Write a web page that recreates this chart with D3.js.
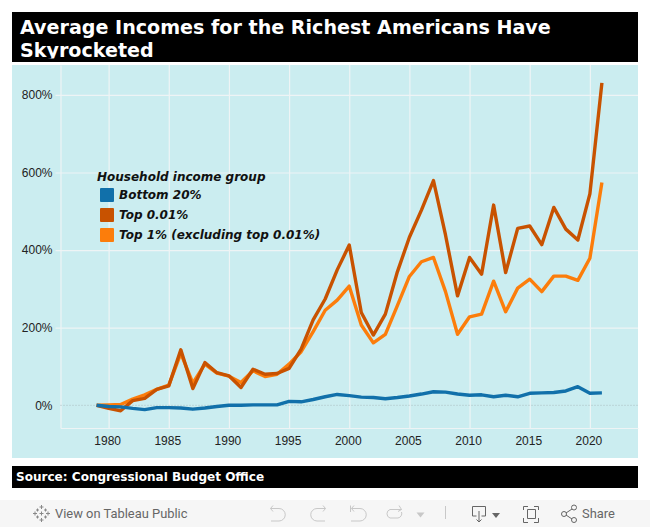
<!DOCTYPE html>
<html>
<head>
<meta charset="utf-8">
<script src="https://d3js.org/d3.v7.min.js"></script>
<style>
html, body { margin: 0; padding: 0; background: #fff; overflow: hidden; }
svg { display: block; }
.tick text { font-family: "Liberation Sans", Arial, sans-serif; font-size: 12px; fill: #222; }
</style>
</head>
<body>
<div id="content"></div>
<script>
var years = d3.range(1979, 2022);
var bottom20 = [0, -3, -4, -8, -11, -6, -6, -7, -10, -7, -3, 0, 0, 1, 1, 1, 10, 9, 15, 22, 28, 25, 21, 20, 17, 20, 24, 29, 35, 34, 29, 26, 27, 22, 26, 22, 31, 32, 33, 37, 48, 31, 32];
var top001 = [0, -8, -14, 12, 18, 41, 50, 143, 43, 110, 84, 76, 46, 93, 80, 82, 95, 145, 220, 274, 349, 413, 239, 181, 235, 344, 433, 503, 579, 439, 282, 381, 338, 516, 342, 456, 462, 414, 510, 454, 426, 545, 831];
var top1 = [0, 1, 2, 16, 27, 41, 52, 134, 57, 106, 83, 75, 59, 89, 74, 80, 106, 138, 190, 245, 271, 307, 207, 161, 183, 257, 332, 370, 381, 293, 183, 228, 235, 320, 241, 302, 325, 293, 333, 333, 322, 379, 574];

var xTicks = [1980, 1985, 1990, 1995, 2000, 2005, 2010, 2015, 2020];
var yTicks = [0, 200, 400, 600, 800];
var groups = ["Bottom 20%", "Top 0.01%", "Top 1% (excluding top 0.01%)"];
var groupColors = ["#1170aa", "#c85200", "#fc7d0b"];

var svg = d3.select("#content").append("svg").attr("width", 650).attr("height", 527);

// title, clipped like the original
svg.append("clipPath").attr("id", "titleClip").append("rect")
	.attr("x", 12).attr("y", 12).attr("width", 626).attr("height", 46.5);
svg.append("rect").attr("x", 12).attr("y", 12).attr("width", 626).attr("height", 50).attr("fill", "#000");
var title = svg.append("text").attr("clip-path", "url(#titleClip)")
	.attr("font-family", "DejaVu Sans").attr("font-weight", "bold").attr("font-size", 19.1).attr("fill", "#fff");
title.append("tspan").attr("x", 20).attr("y", 34).text("Average Incomes for the Richest Americans Have");
title.append("tspan").attr("x", 20).attr("y", 57).text("Skyrocketed");

// chart panel
svg.append("rect").attr("x", 12).attr("y", 65).attr("width", 626).attr("height", 393).attr("fill", "#cbedf0");

var x = d3.scaleLinear().domain([1976, 2024]).range([60.5, 638]);
var y = d3.scaleLinear().domain([-58.5, 877]).range([428, 65]);

var xAxis = svg.append("g").attr("transform", "translate(0,428)")
	.call(d3.axisBottom(x).tickValues(xTicks).tickFormat(d3.format("d")).tickSize(0).tickPadding(8));
xAxis.select(".domain").attr("stroke", "#eef4f5").attr("stroke-width", 1.2);
xAxis.selectAll(".tick line").attr("y2", -363).attr("stroke", "#eef4f5").attr("stroke-width", 1.2);
xAxis.selectAll(".tick text").attr("dx", -1.5);

var yAxis = svg.append("g").attr("transform", "translate(60.5,0)")
	.call(d3.axisLeft(y).tickValues(yTicks).tickFormat(function(d) { return d + "%"; }).tickSize(0).tickPadding(8));
yAxis.select(".domain").attr("stroke", "#eef4f5").attr("stroke-width", 1.2);
yAxis.selectAll(".tick line").attr("x1", -5).attr("x2", 577.5).attr("stroke", "#eef4f5").attr("stroke-width", 1.2);
// the zero line is a faint dotted one in the original
yAxis.selectAll(".tick line").filter(function(d) { return d === 0; }).attr("stroke", "none");

svg.append("line").attr("x1", 60.5).attr("x2", 638).attr("y1", y(0)).attr("y2", y(0))
	.attr("stroke", "#a9bcbe").attr("stroke-width", 1).attr("stroke-dasharray", "1,2");

var line = d3.line()
	.x(function(d, i) { return x(years[i]); })
	.y(function(d) { return y(d); });

[[top1, 2], [top001, 1], [bottom20, 0]].forEach(function(s) {
	svg.append("path").datum(s[0]).attr("d", line).attr("fill", "none")
		.attr("stroke", groupColors[s[1]]).attr("stroke-width", 3.4).attr("stroke-linejoin", "round");
});

// legend
var legend = svg.append("g").attr("font-family", "DejaVu Sans").attr("font-weight", "bold")
	.attr("font-style", "italic").attr("font-size", 12).attr("fill", "#111");
legend.append("text").attr("x", 97).attr("y", 181).text("Household income group");
var item = legend.selectAll("g").data(groups).enter().append("g");
item.append("rect").attr("x", 100).attr("width", 14).attr("height", 14).attr("rx", 1)
	.attr("y", function(d, i) { return 188 + i * 20; })
	.attr("fill", function(d, i) { return groupColors[i]; });
item.append("text").attr("x", 119)
	.attr("y", function(d, i) { return 199 + i * 20; })
	.text(function(d) { return d; });

// source bar
svg.append("rect").attr("x", 12).attr("y", 466).attr("width", 626).attr("height", 22).attr("fill", "#000");
svg.append("text").attr("x", 16).attr("y", 481).attr("font-family", "DejaVu Sans").attr("font-weight", "bold")
	.attr("font-size", 12.05).attr("fill", "#fff").text("Source: Congressional Budget Office");

// tableau toolbar
svg.append("rect").attr("x", 0).attr("y", 500).attr("width", 650).attr("height", 27).attr("fill", "#f6f6f6");
var toolText = svg.append("g").attr("font-family", "Roboto, 'Liberation Sans', sans-serif").attr("font-size", 12.9).attr("fill", "#666");
toolText.append("text").attr("x", 55).attr("y", 518).text("View on Tableau Public");
toolText.append("text").attr("x", 582).attr("y", 518).text("Share");

var icons = svg.append("g").attr("fill", "none").attr("stroke-width", 1);
// tableau mark
var marks = [[41.5, 507, 2], [41.5, 520, 2], [35, 513.5, 2], [48, 513.5, 2], [37.5, 510, 1.5], [45.5, 510, 1.5], [37.5, 517, 1.5], [45.5, 517, 1.5], [41.5, 513.5, 2]];
icons.selectAll("path.mark").data(marks).enter().append("path").attr("class", "mark").attr("stroke", "#888")
	.attr("d", function(d) { return "M" + (d[0] - d[2]) + "," + d[1] + "H" + (d[0] + d[2]) + "M" + d[0] + "," + (d[1] - d[2]) + "V" + (d[1] + d[2]); });
// undo, redo, revert, refresh
icons.append("path").attr("stroke", "#c8c8c8").attr("d", "M273,505.5L270.5,508.5L273,511.5M270.5,508.5H279A6,6 0 0 1 279,521H271");
icons.append("path").attr("stroke", "#c8c8c8").attr("d", "M323,505.5L325.5,508.5L323,511.5M325.5,508.5H317A6,6 0 0 0 317,521H325");
icons.append("path").attr("stroke", "#c8c8c8").attr("d", "M350.5,505.5V512M354,505.5L351.5,508.5L354,511.5M351.5,508.5H360A6,6 0 0 1 360,521H351");
icons.append("path").attr("stroke", "#c8c8c8").attr("d", "M399,505.5L401.5,509.5L398,511.5M401.5,509.5H390A4.5,4.5 0 0 0 390,518H398A4.5,4.5 0 0 0 401.5,512");
icons.append("path").attr("stroke", "none").attr("fill", "#c8c8c8").attr("d", "M416.5,512.5H424.5L420.5,517.5Z");
icons.append("path").attr("stroke", "#c8c8c8").attr("d", "M445.5,506V519");
// download
icons.append("path").attr("stroke", "#666").attr("d", "M476.5,516H472.5V506.5H485.5V516H481.5M479,511V522M476.5,519.5L479,522L481.5,519.5");
icons.append("path").attr("stroke", "none").attr("fill", "#666").attr("d", "M492,513H500L496,518Z");
// fullscreen
icons.append("path").attr("stroke", "#666").attr("d", "M523.5,510V506.5H528M534,506.5H538.5V510M538.5,518V522.5H534M528,522.5H523.5V518M527.5,509.5H535.5V518.5H527.5Z");
// share
icons.append("path").attr("stroke", "#666").attr("d", "M566,513L572,509M566,515L572,519");
icons.selectAll("circle").data([[564, 514], [574, 507.5], [574, 520]]).enter().append("circle")
	.attr("stroke", "#666").attr("r", 2.5)
	.attr("cx", function(d) { return d[0]; }).attr("cy", function(d) { return d[1]; });
</script>
</body>
</html>
